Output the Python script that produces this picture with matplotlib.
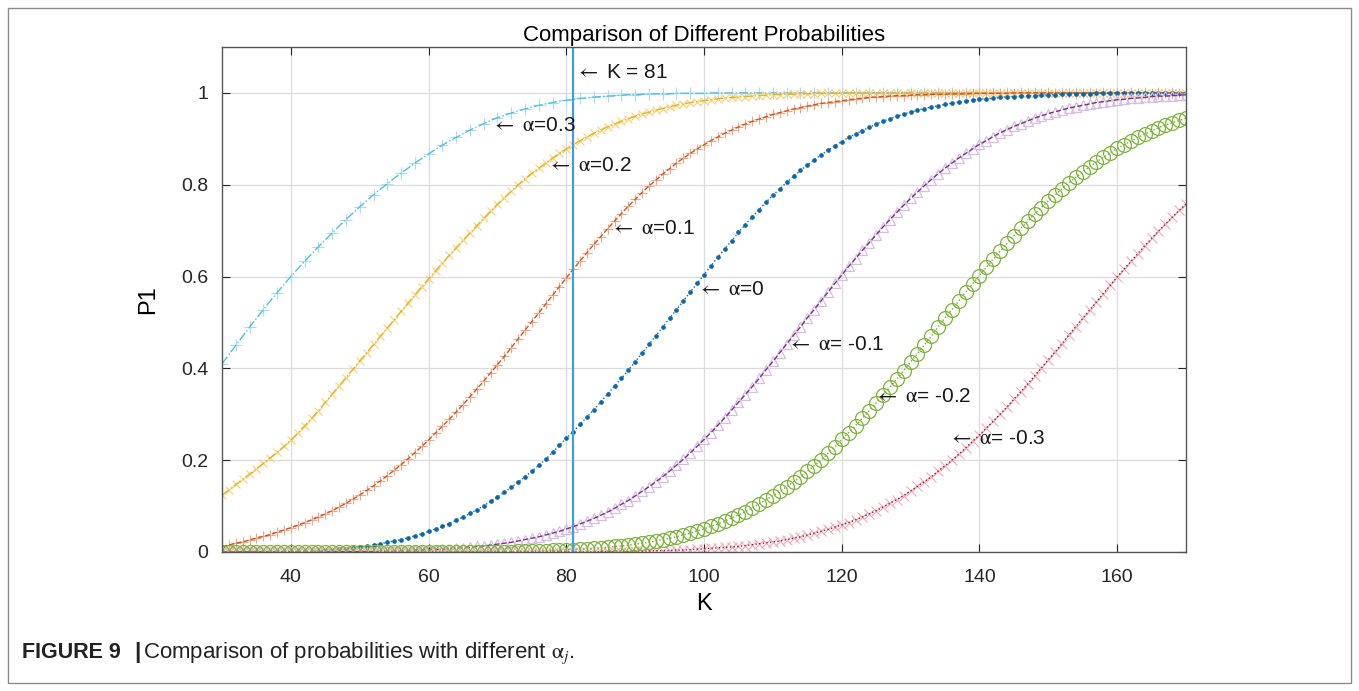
import matplotlib
matplotlib.use('Agg')
import matplotlib.pyplot as plt
from matplotlib.patches import Rectangle

plt.rcParams['font.family'] = ['Liberation Sans', 'DejaVu Sans']
plt.rcParams['mathtext.fontset'] = 'stix'

K = list(range(30, 171))

# P1 for alpha = 0.3
p_03 = [.410, .430, .450, .470, .490, .509, .528, .547, .565, .583,
        .600, .617, .633, .649, .665, .680, .695, .710, .724, .738,
        .752, .765, .778, .790, .802, .814, .825, .836, .847, .857,
        .867, .877, .886, .895, .903, .911, .919, .926, .933, .940,
        .946, .951, .956, .961, .965, .969, .973, .976, .979, .982,
        .984, .986, .988, .989, .991, .992, .993, .994, .995, .996,
        .996, .997, .997, .998, .998, .998, .999, .999, .999, .999,
        .999, 1, 1, 1, 1, 1, 1, 1, 1, 1,
        1, 1, 1, 1, 1, 1, 1, 1, 1, 1,
        1, 1, 1, 1, 1, 1, 1, 1, 1, 1,
        1, 1, 1, 1, 1, 1, 1, 1, 1, 1,
        1, 1, 1, 1, 1, 1, 1, 1, 1, 1,
        1, 1, 1, 1, 1, 1, 1, 1, 1, 1,
        1, 1, 1, 1, 1, 1, 1, 1, 1, 1,
        1]

# alpha = 0.2
p_02 = [.124, .135, .147, .158, .170, .181, .193, .205, .217, .230,
        .244, .259, .275, .291, .308, .326, .344, .362, .380, .398,
        .416, .434, .452, .470, .488, .506, .524, .542, .560, .578,
        .595, .612, .629, .646, .663, .679, .695, .711, .727, .742,
        .757, .772, .786, .800, .813, .825, .836, .847, .858, .868,
        .878, .887, .896, .904, .912, .919, .926, .932, .938, .944,
        .949, .954, .958, .962, .966, .970, .973, .976, .979, .981,
        .983, .985, .987, .989, .990, .991, .992, .993, .994, .995,
        .996, .996, .997, .997, .998, .998, .998, .999, .999, .999,
        .999, 1, 1, 1, 1, 1, 1, 1, 1, 1,
        1, 1, 1, 1, 1, 1, 1, 1, 1, 1,
        1, 1, 1, 1, 1, 1, 1, 1, 1, 1,
        1, 1, 1, 1, 1, 1, 1, 1, 1, 1,
        1, 1, 1, 1, 1, 1, 1, 1, 1, 1,
        1]

# alpha = 0.1
p_01 = [.012, .015, .019, .022, .026, .030, .034, .038, .043, .048,
        .053, .058, .064, .070, .076, .083, .090, .098, .106, .115,
        .124, .134, .144, .155, .166, .178, .190, .203, .216, .230,
        .244, .259, .274, .289, .305, .321, .338, .355, .372, .390,
        .408, .426, .445, .464, .483, .502, .521, .540, .559, .578,
        .597, .616, .634, .652, .670, .687, .704, .721, .737, .753,
        .768, .783, .797, .810, .823, .835, .847, .858, .868, .878,
        .887, .896, .904, .912, .919, .926, .932, .938, .943, .948,
        .953, .957, .961, .965, .968, .971, .974, .977, .979, .981,
        .983, .985, .987, .988, .990, .991, .992, .993, .994, .994,
        .995, .996, .996, .997, .997, .997, .998, .998, .998, .999,
        .999, .999, .999, .999, .999, 1, 1, 1, 1, 1,
        1, 1, 1, 1, 1, 1, 1, 1, 1, 1,
        1, 1, 1, 1, 1, 1, 1, 1, 1, 1,
        1]

# alpha = 0
p_00 = [.000, .000, .000, .000, .001, .001, .001, .001, .001, .001,
        .002, .002, .002, .003, .003, .004, .005, .006, .007, .009,
        .011, .013, .015, .018, .021, .024, .027, .031, .035, .040,
        .045, .050, .056, .062, .069, .076, .084, .092, .101, .110,
        .120, .130, .141, .152, .164, .176, .189, .202, .217, .232,
        .248, .262, .278, .294, .310, .327, .344, .361, .378, .396,
        .414, .433, .452, .471, .490, .509, .528, .547, .566, .585,
        .604, .623, .642, .660, .678, .696, .713, .730, .746, .762,
        .777, .791, .805, .818, .831, .843, .854, .865, .875, .885,
        .894, .903, .911, .918, .925, .932, .938, .944, .949, .954,
        .958, .962, .966, .969, .972, .975, .978, .980, .982, .984,
        .986, .987, .988, .990, .991, .992, .993, .994, .994, .995,
        .996, .996, .997, .997, .998, .998, .998, .999, .999, .999,
        .999, 1, 1, 1, 1, 1, 1, 1, 1, 1,
        1]

# alpha = -0.1
p_m01 = [0, 0, 0, 0, 0, 0, 0, 0, 0, 0,
         .000, .000, .000, .000, .000, .000, .001, .001, .001, .001,
         .001, .001, .001, .002, .002, .002, .003, .003, .004, .004,
         .005, .005, .006, .007, .008, .009, .010, .012, .013, .015,
         .017, .019, .021, .024, .027, .030, .033, .037, .041, .045,
         .050, .055, .061, .067, .073, .080, .087, .095, .104, .112,
         .122, .132, .142, .153, .164, .176, .189, .202, .216, .230,
         .245, .260, .276, .292, .309, .326, .343, .360, .378, .397,
         .415, .434, .453, .472, .490, .510, .528, .547, .566, .585,
         .603, .622, .639, .657, .674, .691, .708, .724, .740, .755,
         .770, .784, .798, .811, .824, .836, .847, .858, .868, .878,
         .888, .896, .905, .913, .920, .927, .933, .939, .945, .950,
         .955, .959, .963, .967, .970, .973, .976, .979, .981, .983,
         .985, .986, .988, .989, .990, .992, .993, .993, .994, .995,
         .996]

# alpha = -0.2
p_m02 = [0, 0, 0, 0, 0, 0, 0, 0, 0, 0,
         0, 0, 0, 0, 0, 0, 0, 0, 0, 0,
         0, 0, 0, 0, 0, 0, 0, 0, 0, 0,
         0, 0, 0, 0, 0, 0, 0, .001, .001, .001,
         .001, .001, .001, .002, .002, .002, .003, .003, .004, .004,
         .005, .005, .006, .007, .008, .009, .010, .012, .013, .015,
         .017, .019, .021, .024, .027, .030, .033, .037, .041, .046,
         .050, .056, .061, .067, .074, .081, .088, .096, .105, .114,
         .122, .132, .142, .153, .164, .176, .188, .200, .215, .229,
         .245, .260, .275, .291, .308, .325, .342, .359, .377, .395,
         .414, .432, .451, .470, .490, .510, .528, .547, .566, .584,
         .602, .620, .638, .655, .672, .689, .705, .720, .736, .750,
         .765, .778, .791, .804, .816, .828, .839, .850, .860, .869,
         .879, .887, .895, .903, .910, .917, .924, .930, .935, .940,
         .945]

# alpha = -0.3
p_m03 = [0, 0, 0, 0, 0, 0, 0, 0, 0, 0,
         0, 0, 0, 0, 0, 0, 0, 0, 0, 0,
         0, 0, 0, 0, 0, 0, 0, 0, 0, 0,
         0, 0, 0, 0, 0, 0, 0, 0, 0, 0,
         0, 0, 0, 0, 0, 0, 0, 0, 0, 0,
         0, 0, 0, 0, 0, .001, .001, .001, .001, .001,
         .002, .002, .002, .003, .003, .003, .004, .004, .005, .006,
         .007, .008, .009, .010, .011, .012, .014, .016, .018, .020,
         .022, .024, .027, .030, .033, .037, .041, .045, .049, .054,
         .059, .064, .070, .076, .083, .090, .098, .106, .114, .123,
         .133, .143, .153, .164, .176, .188, .200, .213, .227, .241,
         .255, .270, .285, .300, .316, .333, .349, .366, .383, .401,
         .419, .436, .454, .473, .491, .509, .527, .545, .563, .581,
         .599, .616, .633, .650, .667, .683, .699, .714, .729, .744,
         .758]

K_line = 81

fig = plt.figure(figsize=(13.59, 6.91), dpi=100)
ax = fig.add_axes([0.1634, 0.2012, 0.7093, 0.7308])

# (values, line colour, line style, marker, marker colour, marker size, markevery)
curves = [
    (p_03, '#4DBEEE', '-.', '+', '#a8ddf3', 8, 2),
    (p_02, '#EDB120', '-.', 'x', '#f5d27a', 6, 1),
    (p_01, '#D95319', '--', '+', '#f0a88a', 7, 1),
    (p_00, '#0072BD', ':', '.', '#0b64a8', 5, 1),
    (p_m01, '#7E2F8E', '--', '^', '#d8bde2', 7, 1),
    (p_m03, '#A2142F', ':', 'x', '#eeacb9', 7, 1),
    (p_m02, '#77AC30', ':', 'o', '#7db33a', 10, 1),
]

for vals, lc, ls, mk, mc, ms, me in curves:
    if mk == '^' or mk == 'o':
        ax.plot(K, vals, linestyle='none', marker=mk, color=mc, ms=ms,
                mfc='none', mew=0.9, markevery=me)
    else:
        ax.plot(K, vals, linestyle='none', marker=mk, color=mc, ms=ms,
                mew=0.8, markevery=me)
    ax.plot(K, vals, linestyle=ls, color=lc, lw=1.0)

ax.axvline(K_line, color='#3d9fe0', lw=1.6)

ax.set_xlim(30, 170)
ax.set_ylim(0, 1.1)
ax.set_xticks([40, 60, 80, 100, 120, 140, 160])
ax.set_yticks([0, 0.2, 0.4, 0.6, 0.8, 1])
ax.set_yticklabels(['0', '0.2', '0.4', '0.6', '0.8', '1'])
ax.grid(True, color='#dcdcdc', lw=0.9)
ax.set_axisbelow(True)
ax.tick_params(direction='in', length=6, top=True, right=True,
               labelsize=14, colors='#262626')
ax.tick_params(axis='x', pad=12)
ax.tick_params(axis='y', pad=10)
for sp in ax.spines.values():
    sp.set_color('#555555')
    sp.set_linewidth(1.0)

ax.set_title('Comparison of Different Probabilities', fontsize=16, pad=4)
ax.set_xlabel('K', fontsize=17, labelpad=5)
ax.set_ylabel('P1', fontsize=17, labelpad=16)

a = r'$\mathrm{\alpha}$'
notes = [
    (81.3, 1.045, r'$\leftarrow$ K = 81'),
    (69.0, 0.930, r'$\leftarrow$ ' + a + '=0.3'),
    (77.2, 0.841, r'$\leftarrow$ ' + a + '=0.2'),
    (86.3, 0.704, r'$\leftarrow$ ' + a + '=0.1'),
    (99.0, 0.571, r'$\leftarrow$ ' + a + '=0'),
    (112.0, 0.451, r'$\leftarrow$ ' + a + '= -0.1'),
    (124.7, 0.338, r'$\leftarrow$ ' + a + '= -0.2'),
    (135.4, 0.248, r'$\leftarrow$ ' + a + '= -0.3'),
]
for x, y, s in notes:
    ax.text(x, y, s, fontsize=15, va='center', ha='left', color='#1a1a1a')

fig.patches.append(Rectangle((8 / 1359, 8 / 691), 1343 / 1359, 675 / 691,
                             transform=fig.transFigure, fill=False,
                             edgecolor='#8c8c8c', lw=1.0))
fig.text(0.0162, 0.055, 'FIGURE 9', fontsize=15.5, fontweight='bold',
         color='#222222', va='center')
fig.text(0.0985, 0.055, '|', fontsize=16, fontweight='bold',
         color='#222222', va='center')
fig.text(0.105, 0.055, r'Comparison of probabilities with different $\mathrm{\alpha}_j$.',
         fontsize=16, color='#222222', va='center')

fig.savefig('out.png', dpi=100)
